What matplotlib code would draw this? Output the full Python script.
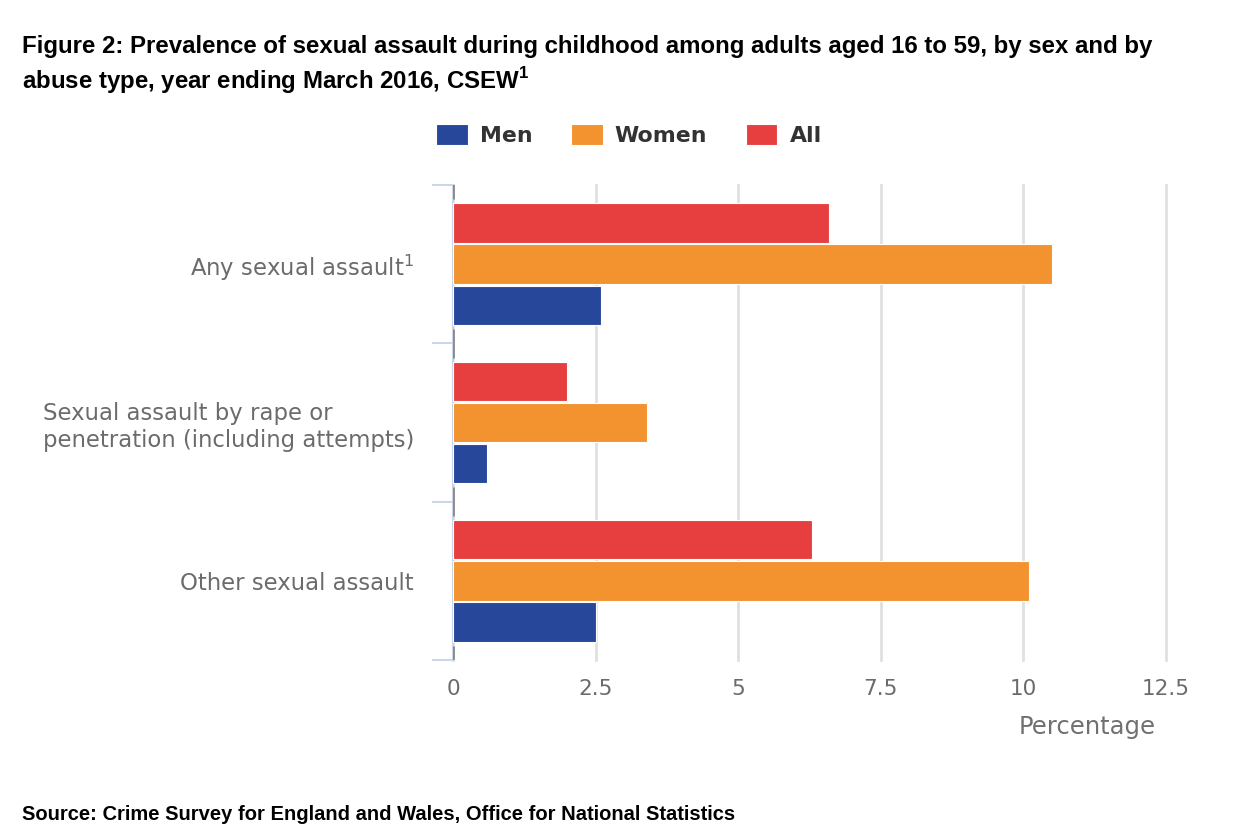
import numpy as np
import matplotlib.pyplot as plt

plt.rcParams['mathtext.fontset'] = 'custom'
plt.rcParams['mathtext.rm'] = 'DejaVu Sans'
plt.rcParams['mathtext.bf'] = 'Liberation Sans:bold'

# data
categories = ['Any sexual assault$^{1}$',
              'Sexual assault by rape or\npenetration (including attempts)',
              'Other sexual assault']
men = [2.6, 0.6, 2.5]
women = [10.5, 3.4, 10.1]
all_adults = [6.6, 2.0, 6.3]
series_names = ['Men', 'Women', 'All']
colours = ['#27479a', '#f3932f', '#e73f3f']
xticks = [0, 2.5, 5, 7.5, 10, 12.5]
xtick_labels = ['0', '2.5', '5', '7.5', '10', '12.5']

fig = plt.figure(figsize=(12.5, 8.3), dpi=100)
ax = fig.add_axes([0.3624, 0.2048, 0.5704, 0.5723])

y = np.arange(len(categories))
h = 0.26
for vals, off, col, name in [(all_adults, -h, colours[2], 'All'),
                             (women, 0, colours[1], 'Women'),
                             (men, h, colours[0], 'Men')]:
    ax.barh(y + off, vals, height=h - 0.01, color=col, edgecolor='white',
            linewidth=0.8, label=name, zorder=3)

ax.set_xlim(0, 12.5)
ax.set_ylim(len(categories) - 0.5, -0.5)
ax.set_xticks(xticks)
ax.set_xticklabels(xtick_labels)
ax.set_yticks(y)
ax.set_yticklabels(categories)
ax.tick_params(axis='x', length=0, pad=14, labelsize=15.5, labelcolor='#6b6b6b')
ax.tick_params(axis='y', which='major', length=0, pad=28, labelsize=16.4,
               labelcolor='#6b6b6b')
bounds = np.arange(len(categories) + 1) - 0.5
ax.set_yticks(bounds, minor=True)
ax.tick_params(axis='y', which='minor', length=15, width=1.5, color='#ccd6eb')
for lab in ax.get_yticklabels():
    lab.set_multialignment('left')

ax.grid(axis='x', color='#e0e0e0', linewidth=2, zorder=0)
for gl in ax.get_xgridlines():
    gl.set_clip_on(False)
for s in ['top', 'right', 'bottom']:
    ax.spines[s].set_visible(False)
ax.spines['left'].set_color('#ccd6eb')
ax.spines['left'].set_linewidth(1.5)
ax.vlines([0] * len(bounds), bounds - 0.09, bounds + 0.09, color='#8a8a8a',
          linewidth=2, zorder=4, clip_on=True)

ax.set_xlabel('Percentage', fontsize=17.5, color='#707070')
ax.xaxis.set_label_coords(0.89, -0.141)
ax.xaxis.label.set_horizontalalignment('center')
ax.xaxis.label.set_verticalalignment('center')

handles, labels = ax.get_legend_handles_labels()
order = [2, 1, 0]
fig.legend([handles[i] for i in order], [labels[i] for i in order],
           loc='center', bbox_to_anchor=(0.503, 0.837), ncol=3, frameon=False,
           handlelength=1.45, handleheight=1.1, handletextpad=0.55,
           columnspacing=1.75, prop={'weight': 'bold', 'size': 15.8},
           labelcolor='#333333')

fig.text(0.0176, 0.958,
         'Figure 2: Prevalence of sexual assault during childhood among adults aged 16 to 59, by sex and by\n'
         'abuse type, year ending March 2016, CSEW$^{\\mathbf{1}}$',
         fontsize=17.3, fontweight='bold', family='Liberation Sans',
         va='top', ha='left', linespacing=1.3)
fig.text(0.0176, 0.007, 'Source: Crime Survey for England and Wales, Office for National Statistics',
         fontsize=14.5, fontweight='bold', family='Liberation Sans',
         va='bottom', ha='left')

fig.savefig('out.png', dpi=100)
